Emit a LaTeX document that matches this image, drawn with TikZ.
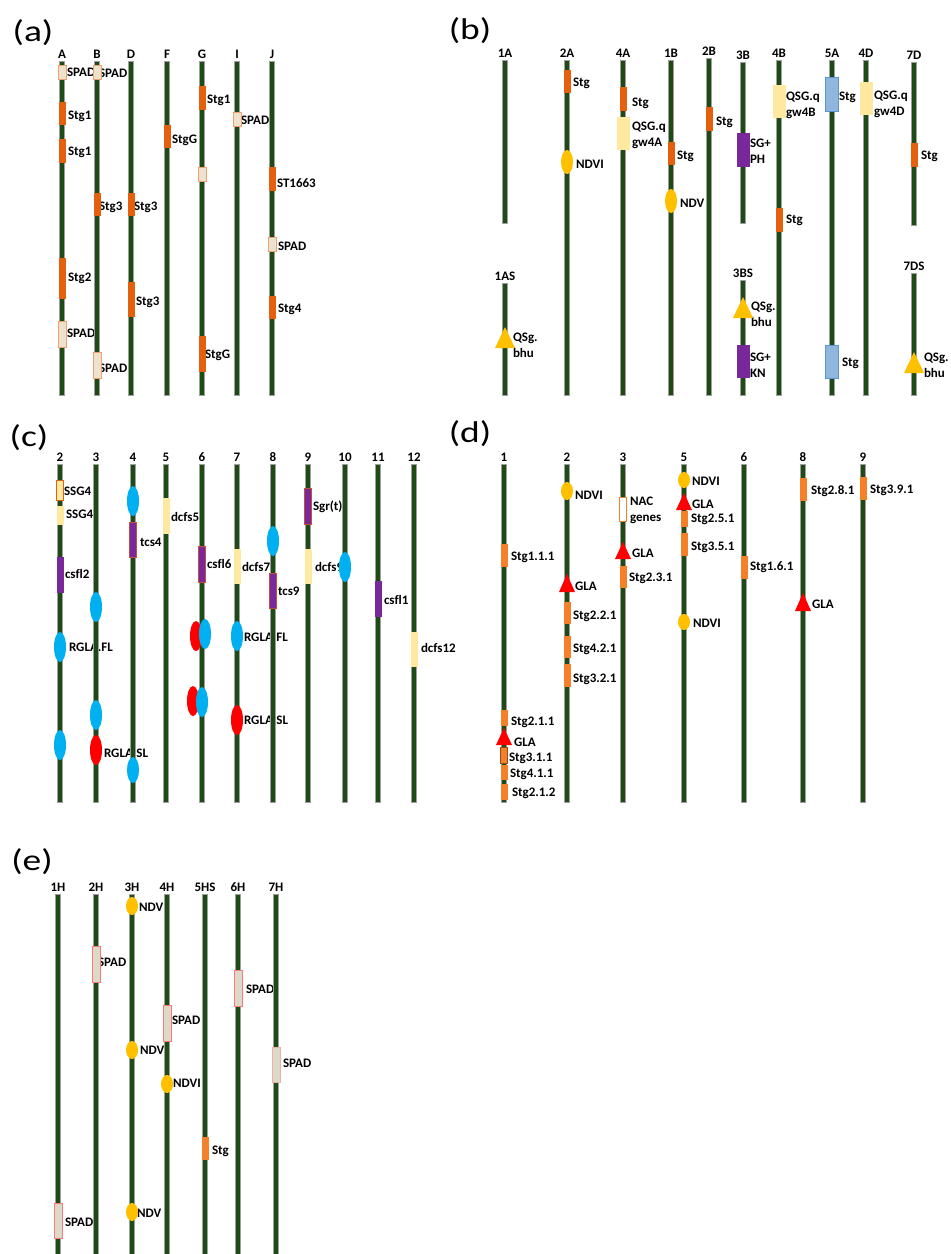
\documentclass[tikz,border=0pt]{standalone}
\usepackage{fontspec}
\setmainfont{Carlito}[Ligatures=CommonOff]
\usepackage{graphicx}
\pgfdeclarelayer{bg}
\pgfdeclarelayer{lab}
\pgfdeclarelayer{mark}
\pgfsetlayers{bg,lab,main,mark}
\definecolor{chrG}{RGB}{30,74,22}
\definecolor{orA}{RGB}{228,96,12}
\definecolor{orD}{RGB}{245,128,42}
\definecolor{spF}{RGB}{236,226,206}
\definecolor{spB}{RGB}{240,160,110}
\definecolor{spEF}{RGB}{221,217,200}
\definecolor{spEB}{RGB}{255,120,120}
\definecolor{ylwC}{RGB}{255,233,160}
\definecolor{prpC}{RGB}{120,40,155}
\definecolor{bluF}{RGB}{145,182,222}
\definecolor{bluB}{RGB}{90,150,210}
\definecolor{goldC}{RGB}{255,192,0}
\definecolor{cynC}{RGB}{0,176,240}
\tikzset{
  lbl/.style={anchor=west, inner sep=0pt, outer sep=0pt, font=\bfseries\fontsize{13}{16}\selectfont, align=left},
  chrlbl/.style={anchor=base, inner sep=0pt, font=\bfseries\fontsize{13}{15}\selectfont},
  ttl/.style={inner sep=0pt, font=\fontsize{30}{32}\selectfont},
  chr/.style={fill=chrG, draw=gray!75, line width=0.9pt},
  orgA/.style={fill=orA},
  orgD/.style={fill=orD},
  orgDb/.style={fill=orD, draw=orD!60!black, line width=0.6pt},
  spadA/.style={fill=spF, draw=spB, line width=0.8pt},
  spadE/.style={fill=spEF, draw=spEB, line width=0.6pt},
  spadEn/.style={fill=spEF, draw=spEB!40!spEF, line width=0.5pt},
  ylw/.style={fill=ylwC},
  ylwO/.style={fill=ylwC, draw=orA, line width=0.7pt},
  prp/.style={fill=prpC},
  prpO/.style={fill=prpC, draw=orA!70!prpC, line width=0.7pt},
  blu/.style={fill=bluF, draw=bluB, line width=0.8pt},
  nac/.style={fill=white, draw=orD, line width=1pt},
  gold/.style={fill=goldC},
  cyn/.style={fill=cynC},
  rd/.style={fill=red}
}
\newcounter{nid}
\newcommand\Lbl[3]{\stepcounter{nid}\edef\tmpnm{t\arabic{nid}}%
  \begin{pgfonlayer}{lab}\node[lbl] (\tmpnm) at (#1,#2) {#3};\end{pgfonlayer}}
\newcommand\Chr[5]{\node[chrlbl] (#1) at (#3,#4-3) {#2};%
  \draw[chr] (#3-2.8,#4) rectangle (#3+2.8,#5);}
\newcommand\Mbox[5]{\begin{pgfonlayer}{mark}\path[#1] (#2-#5/2,#3) rectangle (#2+#5/2,#4);\end{pgfonlayer}}
\newcommand\Mell[5]{\begin{pgfonlayer}{mark}\path[#1] (#2,#3) ellipse (#4pt and #5pt);\end{pgfonlayer}}
\newcommand\Mtri[5]{\begin{pgfonlayer}{mark}\path[#1] (#2,#3) -- (#2+#5,#4) -- (#2-#5,#4) -- cycle;\end{pgfonlayer}}
\begin{document}
\begin{tikzpicture}[x=1pt,y=-1pt]
\begin{pgfonlayer}{bg}
\fill[white] (0,0) rectangle (951,1254);
\end{pgfonlayer}
\path[use as bounding box] (0,0) rectangle (951,1254);
% ---------------- titles
\node[ttl] (ta) at (33,33) {\scalebox{1.25}[1]{(a)}};
\node[ttl] (tb) at (470,31) {\scalebox{1.25}[1]{(b)}};
\node[ttl] (tc) at (29,438) {\scalebox{1.25}[1]{(c)}};
\node[ttl] (td) at (470,434) {\scalebox{1.25}[1]{(d)}};
\node[ttl] (te) at (32,862) {\scalebox{1.25}[1]{(e)}};
% ---------------- panel (a)
\Chr{aA}{A}{62}{61}{395}
\Chr{aB}{B}{97}{61}{395}
\Chr{aD}{D}{131}{61}{395}
\Chr{aF}{F}{167}{61}{395}
\Chr{aG}{G}{202}{61}{395}
\Chr{aI}{I}{237}{61}{395}
\Chr{aJ}{J}{272}{61}{395}
\Mbox{spadA}{62}{65}{79}{8}
\Mbox{orgA}{62}{102}{125}{7}
\Mbox{orgA}{62}{139}{163}{7}
\Mbox{orgA}{62}{258}{299}{7}
\Mbox{spadA}{62}{321}{347}{8}
\Mbox{spadA}{97}{65}{79}{8}
\Mbox{orgA}{97}{193}{216}{7}
\Mbox{spadA}{97}{352}{378}{8}
\Mbox{orgA}{131}{193}{216}{7}
\Mbox{orgA}{131}{282}{317}{7}
\Mbox{orgA}{167}{125}{148}{7}
\Mbox{orgA}{202}{86}{110}{7}
\Mbox{spadA}{202}{167}{181}{8}
\Mbox{orgA}{202}{336}{372}{7}
\Mbox{spadA}{237}{112}{126}{8}
\Mbox{orgA}{272}{167}{191}{7}
\Mbox{spadA}{272}{237}{251}{8}
\Mbox{orgA}{272}{296}{319}{7}
\Lbl{67}{72}{SPAD}\Lbl{68}{116}{Stg1}\Lbl{68}{152}{Stg1}\Lbl{68}{278}{Stg2}\Lbl{67}{333}{SPAD}
\Lbl{99}{73}{SPAD}\Lbl{99}{207}{Stg3}\Lbl{99}{368}{SPAD}
\Lbl{134}{207}{Stg3}\Lbl{136}{302}{Stg3}
\Lbl{172}{140}{StgG}
\Lbl{207}{100}{Stg1}\Lbl{205}{355}{StgG}
\Lbl{241}{120}{SPAD}
\Lbl{277}{183}{ST1663}\Lbl{278}{246}{SPAD}\Lbl{278}{309}{Stg4}
% ---------------- panel (b)
\Chr{b1A}{1A}{505}{60}{223}
\Chr{b2A}{2A}{567}{60}{395}
\Chr{b4A}{4A}{623}{60}{395}
\Chr{b1B}{1B}{671}{60}{395}
\Chr{b2B}{2B}{709}{58}{395}
\Chr{b3B}{3B}{743}{62}{223}
\Chr{b4B}{4B}{779}{60}{395}
\Chr{b5A}{5A}{832}{60}{395}
\Chr{b4D}{4D}{866}{60}{395}
\Chr{b7D}{7D}{914}{62}{225}
\Chr{b1AS}{1AS}{505}{283}{395}
\Chr{b3BS}{3BS}{743}{280}{395}
\Chr{b7DS}{7DS}{914}{273}{395}
\Mbox{orgA}{567}{70}{93}{7}
\Mell{gold}{567}{162}{6}{12}
\Mbox{orgA}{623}{87}{111}{7}
\Mbox{ylw}{623}{117}{150}{13}
\Mbox{orgA}{671}{142}{165}{7}
\Mell{gold}{671}{201}{6}{12}
\Mbox{orgA}{709}{107}{131}{7}
\Mbox{prp}{743}{133}{167}{13}
\Mbox{ylw}{779}{85}{118}{13}
\Mbox{orgA}{779}{208}{232}{7}
\Mbox{blu}{832}{77}{111}{13}
\Mbox{blu}{832}{345}{378}{13}
\Mbox{ylw}{866}{82}{115}{13}
\Mbox{orgA}{914}{143}{167}{7}
\Mtri{gold}{505}{327}{348}{10}
\Mtri{gold}{743}{297}{318}{10}
\Mbox{prp}{743}{345}{378}{13}
\Mtri{gold}{914}{352}{373}{10}
\Lbl{573}{83}{Stg}\Lbl{576}{164}{NDVI}
\Lbl{632}{103}{Stg}\Lbl{632}{135}{QSG.q\\gw4A}
\Lbl{677}{156}{Stg}\Lbl{680}{203}{NDV}
\Lbl{716}{122}{Stg}
\Lbl{750}{151}{SG+\\PH}
\Lbl{786}{105}{QSG.q\\gw4B}\Lbl{786}{220}{Stg}
\Lbl{839}{97}{Stg}\Lbl{842}{363}{Stg}
\Lbl{874}{104}{QSG.q\\gw4D}
\Lbl{921}{156}{Stg}
\Lbl{513}{345}{QSg.\\bhu}
\Lbl{751}{314}{QSg.\\bhu}
\Lbl{750}{365}{SG+\\KN}
\Lbl{924}{365}{QSg.\\bhu}
% ---------------- panel (c)
\Chr{c2}{2}{60}{464}{802}
\Chr{c3}{3}{96}{464}{802}
\Chr{c4}{4}{133}{464}{802}
\Chr{c5}{5}{166}{464}{802}
\Chr{c6}{6}{202}{464}{802}
\Chr{c7}{7}{237}{464}{802}
\Chr{c8}{8}{273}{464}{802}
\Chr{c9}{9}{308}{464}{802}
\Chr{c10}{10}{345}{464}{802}
\Chr{c11}{11}{378}{464}{802}
\Chr{c12}{12}{414}{464}{802}
\Mbox{ylwO}{60}{480}{500}{7}
\Mbox{ylw}{60}{506}{525}{7}
\Mbox{prp}{60}{557}{593}{7}
\Mell{cyn}{60}{647}{6}{15}
\Mell{cyn}{60}{745}{6}{15}
\Mell{cyn}{96}{607}{6}{15}
\Mell{cyn}{96}{715}{6}{15}
\Mell{rd}{96}{750}{6}{15}
\Mell{cyn}{133}{501}{6}{15}
\Mbox{prpO}{133}{522}{557}{7}
\Mell{cyn}{133}{770}{6}{13}
\Mbox{ylw}{166}{498}{534}{7}
\Mbox{prpO}{202}{546}{582}{7}
\Mell{rd}{196}{636}{6}{15}
\Mell{cyn}{205}{634}{6}{15}
\Mell{rd}{193}{701}{6}{15}
\Mell{cyn}{202}{702}{6}{15}
\Mbox{ylw}{237}{549}{584}{7}
\Mell{cyn}{237}{636}{6}{15}
\Mell{rd}{237}{720}{6}{15}
\Mell{cyn}{273}{541}{6}{15}
\Mbox{prpO}{273}{573}{608}{7}
\Mbox{prpO}{308}{488}{524}{7}
\Mbox{ylw}{308}{549}{584}{7}
\Mell{cyn}{345}{567}{6}{15}
\Mbox{prp}{378}{581}{617}{7}
\Mbox{ylw}{414}{632}{667}{7}
\Lbl{64}{491}{SSG4}\Lbl{66}{514}{SSG4}\Lbl{65}{574}{csfl2}\Lbl{69}{647}{RGLA.FL}
\Lbl{104}{753}{RGLA.SL}
\Lbl{140}{542}{tcs4}
\Lbl{171}{517}{dcfs5}
\Lbl{207}{564}{csfl6}
\Lbl{242}{567}{dcfs7}\Lbl{244}{637}{RGLA.FL}\Lbl{244}{720}{RGLA.SL}
\Lbl{278}{591}{tcs9}
\Lbl{313}{507}{Sgr(t)}\Lbl{315}{567}{dcfs9}
\Lbl{384}{600}{csfl1}
\Lbl{421}{648}{dcfs12}
% ---------------- panel (d)
\Chr{d1}{1}{504}{464}{802}
\Chr{d2}{2}{567}{464}{802}
\Chr{d3}{3}{623}{464}{802}
\Chr{d5}{5}{684}{464}{802}
\Chr{d6}{6}{744}{464}{802}
\Chr{d8}{8}{803}{464}{802}
\Chr{d9}{9}{863}{464}{802}
\Mbox{orgD}{504}{544}{567}{7}
\Mbox{orgD}{504}{710}{726}{7}
\Mtri{rd}{504}{728}{745}{8}
\Mbox{orgDb}{504}{747}{763}{7}
\Mbox{orgD}{504}{765}{780}{7}
\Mbox{orgD}{504}{784}{800}{7}
\Mell{gold}{567}{491}{6}{9}
\Mtri{rd}{567}{574}{592}{8}
\Mbox{orgD}{567}{602}{624}{7}
\Mbox{orgD}{567}{636}{658}{7}
\Mbox{orgD}{567}{664}{687}{7}
\Mbox{nac}{623}{497}{521}{7}
\Mtri{rd}{623}{542}{559}{8}
\Mbox{orgD}{623}{566}{588}{7}
\Mell{gold}{684}{480}{6}{8}
\Mtri{rd}{684}{493}{510}{8}
\Mbox{orgD}{684}{511}{527}{7}
\Mbox{orgD}{684}{533}{556}{7}
\Mell{gold}{684}{622}{6}{8}
\Mbox{orgD}{744}{556}{579}{7}
\Mbox{orgD}{803}{478}{501}{7}
\Mtri{rd}{803}{593}{611}{8}
\Mbox{orgD}{863}{477}{500}{7}
\Lbl{511}{557}{Stg1.1.1}\Lbl{511}{722}{Stg2.1.1}\Lbl{514}{742}{GLA}\Lbl{509}{758}{Stg3.1.1}\Lbl{510}{774}{Stg4.1.1}\Lbl{512}{793}{Stg2.1.2}
\Lbl{575}{495}{NDVI}\Lbl{575}{586}{GLA}\Lbl{573}{616}{Stg2.2.1}\Lbl{573}{649}{Stg4.2.1}\Lbl{573}{679}{Stg3.2.1}
\Lbl{630}{510}{NAC\\genes}\Lbl{632}{553}{GLA}\Lbl{629}{578}{Stg2.3.1}
\Lbl{692}{481}{NDVI}\Lbl{692}{504}{GLA}\Lbl{691}{519}{Stg2.5.1}\Lbl{691}{547}{Stg3.5.1}\Lbl{693}{623}{NDVI}
\Lbl{750}{567}{Stg1.6.1}
\Lbl{811}{491}{Stg2.8.1}\Lbl{812}{604}{GLA}
\Lbl{870}{490}{Stg3.9.1}
% ---------------- panel (e)
\Chr{e1H}{1H}{58}{894}{1254}
\Chr{e2H}{2H}{96}{894}{1254}
\Chr{e3H}{3H}{132}{894}{1254}
\Chr{e4H}{4H}{167}{894}{1254}
\Chr{e5HS}{5HS}{205}{894}{1254}
\Chr{e6H}{6H}{238}{894}{1254}
\Chr{e7H}{7H}{276}{894}{1254}
\Mbox{spadE}{58}{1203}{1238}{8}
\Mbox{spadE}{96}{946}{982}{8}
\Mell{gold}{132}{906}{6}{9}
\Mell{gold}{132}{1050}{6}{9}
\Mell{gold}{132}{1212}{6}{9}
\Mbox{spadE}{167}{1005}{1041}{8}
\Mell{gold}{167}{1084}{6}{9}
\Mbox{orgD}{205}{1137}{1160}{7}
\Mbox{spadE}{238}{970}{1006}{8}
\Mbox{spadEn}{276}{1047}{1082}{8}
\Lbl{65}{1222}{SPAD}\Lbl{98}{962}{SPAD}\Lbl{139}{907}{NDVI}\Lbl{140}{1050}{NDVI}\Lbl{137}{1213}{NDV}
\Lbl{172}{1020}{SPAD}\Lbl{173}{1083}{NDVI}\Lbl{212}{1151}{Stg}\Lbl{246}{989}{SPAD}\Lbl{283}{1063}{SPAD}
\end{tikzpicture}
\end{document}
